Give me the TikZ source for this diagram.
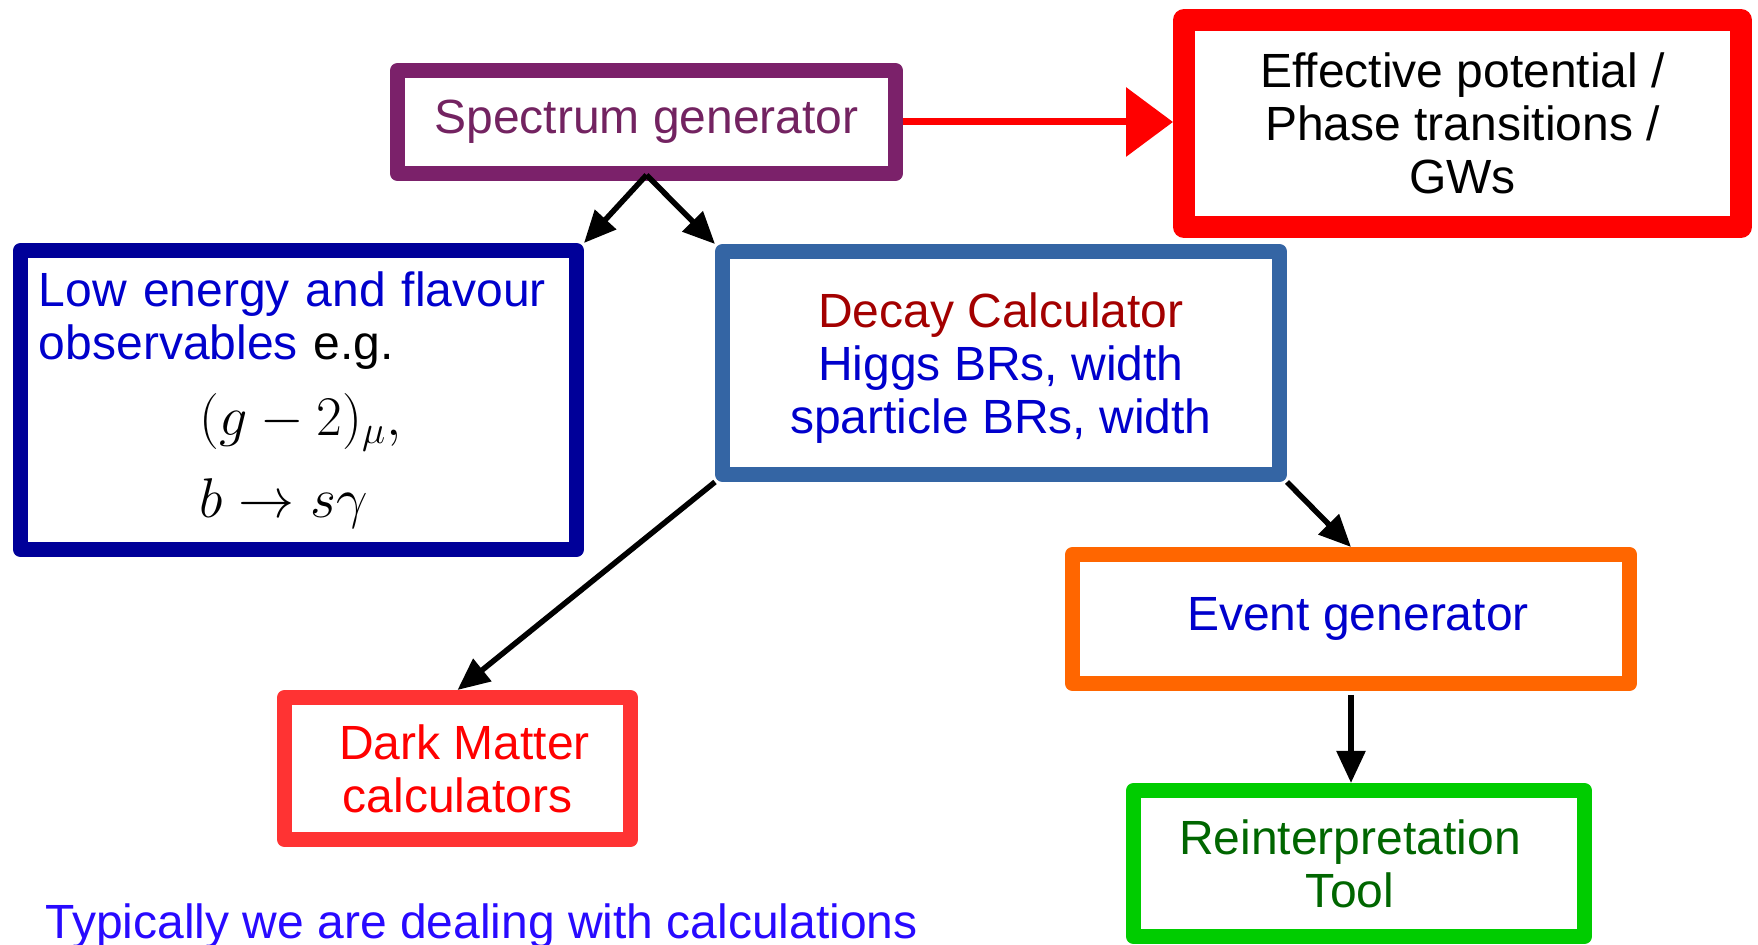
\RequirePackage{fix-cm}
\documentclass[tikz,border=0pt]{standalone}
\usepackage{fontspec}
\setmainfont{Liberation Sans}
\usepackage{xcolor}
\definecolor{mypurple}{RGB}{123,33,106}
\definecolor{mypurpletext}{RGB}{115,35,97}
\definecolor{mydarkblue}{RGB}{0,0,153}
\definecolor{mytextblue}{RGB}{0,0,204}
\definecolor{mysteelblue}{RGB}{52,101,164}
\definecolor{mydarkred}{RGB}{163,0,0}
\definecolor{myorange}{RGB}{255,102,0}
\definecolor{mylightred}{RGB}{255,51,51}
\definecolor{mygreen}{RGB}{0,204,0}
\definecolor{mydarkgreen}{RGB}{0,102,0}
\definecolor{myviolet}{RGB}{40,10,255}
\usepackage{amsmath}
\usepackage{tikz}
\usetikzlibrary{arrows.meta}
\newcommand{\widthborder}{7.5pt}
\newcommand{\mathline}[1]{\hspace*{80.5pt}{\fontsize{28}{30}\selectfont$#1$}}
\tikzset{
    box/.style={draw=#1, line width=\widthborder, line join=round, inner sep=0pt,
        align=center, font=\fontsize{24}{26.5}\selectfont},
    flow/.style={line width=2.75pt, -{Triangle[length=16pt, width=14pt]}},
    bigflow/.style={red, line width=3.5pt, -{Triangle[length=23.5pt, width=34pt]}}
}

\begin{document}
\begin{tikzpicture}[x=0.5pt, y=-0.5pt]
    \clip (0,0) rectangle (1758,945);

    \node[box=mypurple, text=mypurpletext, minimum width=249pt, minimum height=51.5pt]
        (spec) at (646.5,122) {Spectrum generator};
    \node[box=red, line width=11pt, minimum width=278.5pt, minimum height=103.5pt]
        (eff) at (1462.5,123.5) {Effective potential /\\Phase transitions /\\GWs};
    \node[box=mydarkblue, minimum width=278pt, minimum height=149.5pt,
          text width=259.5pt, align=left]
        (low) at (298.5,400) {{\color{mytextblue}Low energy and flavour\\observables} e.g.\\[11.5pt]
            \mathline{(g-2)_\mu,}\\[12.5pt]
            \mathline{b\to s\gamma}};
    \node[box=mysteelblue, text=mytextblue, text depth=0pt, minimum width=278.5pt, minimum height=111.5pt]
        (decay) at (1001,363) {{\color{mydarkred}Decay Calculator}\\Higgs BRs, width\\sparticle BRs, width};
    \node[box=myorange, text=mytextblue, minimum width=278.5pt, minimum height=64.5pt]
        (event) at (1351,619) {\hspace*{7pt}Event generator};
    \node[box=mylightred, text=red, minimum width=173pt, minimum height=71pt]
        (dm) at (457.5,768.5) {\hspace*{7pt}Dark Matter\\calculators};
    \node[box=mygreen, text=mydarkgreen, minimum width=225.5pt, minimum height=73pt]
        (reint) at (1359,863.5) {Reinterpretation\hspace*{9pt}\\Tool\hspace*{9pt}};

    \node[anchor=base west, inner sep=0pt, text=myviolet, font=\fontsize{24}{26.5}\selectfont]
        (note) at (45,939) {Typically we are dealing with calculations};

    \draw[bigflow] (spec.east) -- (spec.east -| eff.west);
    \draw[flow] ([yshift=3pt]spec.south) -- (low.north east);
    \draw[flow] ([yshift=3pt]spec.south) -- (decay.north west);
    \draw[flow] (decay.south west) -- (dm.north);
    \draw[flow] (decay.south east) -- (event.north);
    \draw[flow, shorten <=2pt] (event.south) -- (event.south |- reint.north);
\end{tikzpicture}
\end{document}
